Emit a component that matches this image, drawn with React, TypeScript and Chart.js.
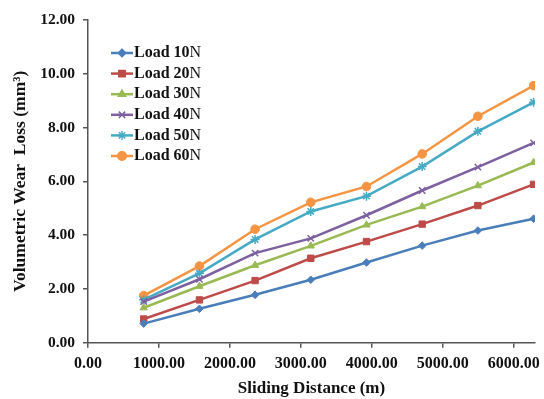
import React, { useEffect, useRef } from "react";
import { Chart, registerables } from "chart.js";
import * as helpers from "chart.js/helpers";

Chart.register(...registerables);

const distances = [785, 1570, 2355, 3140, 3925, 4710, 5495, 6280];
const load10 = [0.71, 1.26, 1.78, 2.34, 2.98, 3.61, 4.17, 4.61];
const load20 = [0.88, 1.59, 2.31, 3.14, 3.76, 4.41, 5.1, 5.89];
const load30 = [1.3, 2.1, 2.88, 3.6, 4.38, 5.06, 5.84, 6.7];
const load40 = [1.53, 2.36, 3.33, 3.88, 4.74, 5.66, 6.53, 7.43];
const load50 = [1.6, 2.58, 3.84, 4.88, 5.45, 6.55, 7.86, 8.94];
const load60 = [1.75, 2.85, 4.22, 5.22, 5.81, 7.02, 8.42, 9.56];
const seriesLabels = ["Load 10N", "Load 20N", "Load 30N", "Load 40N", "Load 50N", "Load 60N"];
const xTicks = [0, 1000, 2000, 3000, 4000, 5000, 6000];
const yTicks = [0, 2, 4, 6, 8, 10, 12];

const colors = ["#4A7EBB", "#BE4B48", "#98B954", "#7D60A0", "#46AAC5", "#F59443"];
const styles = ["rectRot", "rect", "triangle", "crossRot", "star", "circle"];
const radii = [3.8, 4.5, 4.2, 4.5, 4.5, 4.3];

const FONT = "'Liberation Serif', 'Times New Roman', serif";

const legendPlugin = {
  id: "insideLegend",
  afterDraw(chart: any) {
    const ctx = chart.ctx;
    const x0 = 111;
    const y0 = 53;
    const step = 20.6;
    chart.data.datasets.forEach((ds: any, i: number) => {
      const y = y0 + i * step;
      ctx.save();
      ctx.strokeStyle = ds.borderColor;
      ctx.lineWidth = 2.5;
      ctx.beginPath();
      ctx.moveTo(x0, y);
      ctx.lineTo(x0 + 22, y);
      ctx.stroke();
      ctx.fillStyle = ds.pointBackgroundColor;
      ctx.strokeStyle = ds.borderColor;
      ctx.lineWidth = 1.5;
      helpers.drawPoint(ctx, { pointStyle: ds.pointStyle, radius: ds.pointRadius, rotation: 0, borderWidth: 1.5 }, x0 + 11, y);
      ctx.fillStyle = "#111";
      ctx.textBaseline = "middle";
      ctx.textAlign = "left";
      const label: string = ds.label;
      const main = label.slice(0, -1);
      const last = label.slice(-1);
      ctx.font = `bold 16px ${FONT}`;
      ctx.fillText(main, x0 + 23, y);
      const w = ctx.measureText(main).width;
      ctx.font = `16px ${FONT}`;
      ctx.fillText(last, x0 + 23 + w, y);
      ctx.restore();
    });
  },
};

export default function App() {
  const canvasRef = useRef<HTMLCanvasElement | null>(null);

  useEffect(() => {
    document.body.style.margin = "0";
    const series = [load10, load20, load30, load40, load50, load60];
    const datasets = series.map((vals, i) => ({
      label: seriesLabels[i],
      data: vals.map((v, j) => ({ x: distances[j], y: v })),
      borderColor: colors[i],
      backgroundColor: colors[i],
      pointBackgroundColor: colors[i],
      pointBorderColor: colors[i],
      pointStyle: styles[i],
      pointRadius: radii[i],
      pointBorderWidth: styles[i] === "crossRot" || styles[i] === "star" ? 1.5 : 1,
      borderWidth: 2.5,
      tension: 0,
      fill: false,
    }));
    const chart = new Chart(canvasRef.current as HTMLCanvasElement, {
      type: "line",
      data: { datasets },
      plugins: [legendPlugin],
      options: {
        animation: false,
        responsive: false,
        maintainAspectRatio: false,
        layout: { padding: { top: 20, right: 9, left: 0, bottom: 0 } },
        plugins: { legend: { display: false }, tooltip: { enabled: false } },
        scales: {
          x: {
            type: "linear",
            min: 0,
            max: 6300,
            afterBuildTicks: (scale: any) => {
              scale.ticks = xTicks.map((v) => ({ value: v }));
            },
            afterFit: (scale: any) => {
              scale.height = 56.3;
              scale.paddingLeft = 0;
              scale.paddingRight = 0;
            },
            grid: { drawOnChartArea: false, drawTicks: true, tickLength: 5, color: "#555", lineWidth: 1.5 },
            border: { color: "#555", width: 1.5 },
            ticks: {
              color: "#111",
              padding: 7,
              maxRotation: 0,
              autoSkip: false,
              font: { family: FONT, size: 16, weight: "bold" },
              callback: (v: any) => Number(v).toFixed(2),
            },
            title: {
              display: true,
              text: "Sliding Distance (m)",
              color: "#111",
              font: { family: FONT, size: 17, weight: "bold" },
              padding: { top: 0, bottom: 0 },
            },
          },
          y: {
            type: "linear",
            min: 0,
            max: 12,
            afterBuildTicks: (scale: any) => {
              scale.ticks = yTicks.map((v) => ({ value: v }));
            },
            afterFit: (scale: any) => {
              scale.width = 88;
              scale.paddingTop = 0;
              scale.paddingBottom = 0;
            },
            grid: { drawOnChartArea: false, drawTicks: true, tickLength: 5, color: "#555", lineWidth: 1.5 },
            border: { color: "#555", width: 1.5 },
            ticks: {
              color: "#111",
              padding: 8,
              font: { family: FONT, size: 15.5, weight: "bold" },
              callback: (v: any) => Number(v).toFixed(2),
            },
            title: {
              display: true,
              text: "Volumetric Wear  Loss (mm³)",
              color: "#111",
              font: { family: FONT, size: 17.5, weight: "bold" },
              padding: { top: 10, bottom: 0 },
            },
          },
        },
      } as any,
    });
    return () => chart.destroy();
  }, []);

  return (
    <div style={{ width: 544, height: 399 }}>
      <canvas ref={canvasRef} width={544} height={399} />
    </div>
  );
}
